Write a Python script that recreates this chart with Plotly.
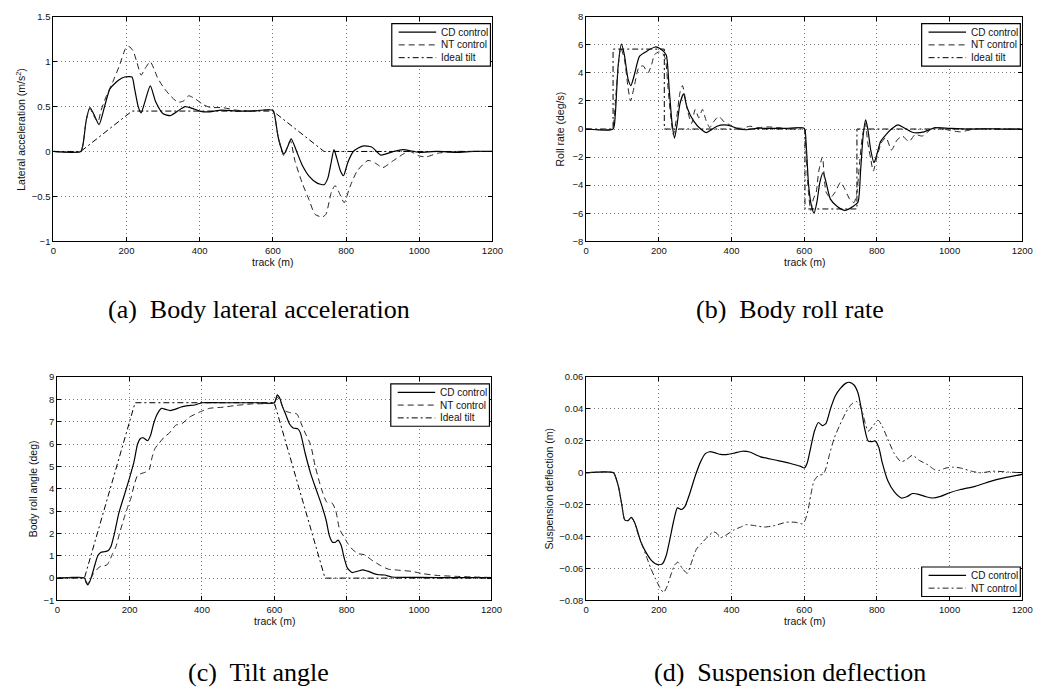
import plotly.graph_objects as go

# ---------------------------------------------------------------------------
# Track-position responses, (track m, value) pairs for each controller
# ---------------------------------------------------------------------------
track_ticks = [0, 200, 400, 600, 800, 1000, 1200]

# (a) body lateral acceleration, m/s^2
lat_acc_cd = [(0, 0), (75, 0), (82, 0.1), (90, 0.35), (100, 0.49), (110, 0.42), (125, 0.30),
              (140, 0.50), (155, 0.70), (180, 0.80), (195, 0.83), (215, 0.83), (222, 0.70),
              (232, 0.50), (240, 0.43), (250, 0.55), (265, 0.73), (280, 0.55), (300, 0.42),
              (320, 0.40), (340, 0.45), (360, 0.50), (380, 0.48), (400, 0.45), (420, 0.44),
              (460, 0.46), (500, 0.45), (540, 0.45), (600, 0.46), (605, 0.40), (615, 0.15),
              (630, -0.03), (640, 0.05), (650, 0.14), (665, 0.0), (680, -0.15), (700, -0.28),
              (720, -0.35), (740, -0.37), (750, -0.30), (758, -0.15), (767, 0.02), (775, -0.08),
              (785, -0.22), (793, -0.27), (805, -0.12), (820, 0.0), (845, 0.06), (870, 0.05),
              (895, -0.04), (930, 0.0), (955, 0.02), (985, 0.0), (1000, -0.01), (1050, 0.0),
              (1100, -0.01), (1150, 0.0), (1200, 0.0)]
lat_acc_nt = [(0, 0), (75, 0), (82, 0.1), (90, 0.35), (100, 0.48), (110, 0.40), (122, 0.33),
              (130, 0.45), (145, 0.62), (162, 0.77), (180, 0.95), (199, 1.16), (207, 1.17),
              (218, 1.12), (228, 1.0), (240, 0.85), (250, 0.92), (265, 1.0), (275, 0.92),
              (285, 0.82), (300, 0.72), (320, 0.62), (340, 0.55), (355, 0.56), (370, 0.62),
              (390, 0.58), (410, 0.52), (430, 0.49), (460, 0.49), (500, 0.46), (540, 0.45),
              (600, 0.46), (605, 0.40), (615, 0.15), (630, -0.05), (640, 0.05), (648, 0.12),
              (660, -0.1), (680, -0.35), (700, -0.55), (715, -0.70), (735, -0.73), (745, -0.70),
              (760, -0.45), (770, -0.38), (780, -0.45), (795, -0.57), (810, -0.40), (830, -0.22),
              (860, -0.10), (880, -0.13), (900, -0.18), (930, -0.10), (960, -0.02), (975, 0.0),
              (1000, -0.05), (1020, -0.06), (1050, -0.02), (1100, 0.0), (1150, 0.0), (1200, 0.0)]
lat_acc_ideal = [(0, 0), (75, 0), (215, 0.45), (600, 0.45), (740, 0), (1200, 0)]

# (b) body roll rate, deg/s
roll_rate_cd = [(0, 0), (74, 0), (80, 1.0), (88, 4.5), (97, 6.05), (105, 5.3), (115, 3.6),
                (123, 3.1), (132, 3.8), (147, 5.2), (170, 5.6), (190, 5.85), (205, 5.7),
                (220, 5.3), (228, 3.0), (236, 0.5), (243, -0.65), (250, 0.3), (258, 1.8),
                (268, 2.5), (278, 1.5), (295, 0.6), (315, 0.0), (331, -0.25), (345, -0.05),
                (360, 0.2), (380, 0.3), (400, 0.2), (420, 0.0), (440, -0.05), (470, 0.05),
                (500, 0.05), (550, 0.05), (600, 0.05), (605, -1.0), (612, -4.0), (620, -5.5),
                (627, -6.0), (635, -5.2), (643, -3.8), (652, -3.1), (660, -3.8), (672, -5.0),
                (690, -5.5), (712, -5.8), (735, -5.5), (748, -5.2), (755, -3.0), (762, -0.5),
                (769, 0.65), (775, 0.0), (783, -1.5), (792, -2.4), (800, -1.8), (810, -0.9),
                (825, -0.4), (840, 0.0), (858, 0.3), (880, 0.0), (900, -0.25), (930, -0.2),
                (960, 0.1), (1000, 0.05), (1050, 0.0), (1100, 0.02), (1150, 0.0), (1200, 0.0)]
roll_rate_nt = [(0, 0), (72, 0), (76, 0.5), (85, 3.5), (95, 5.8), (105, 5.0), (115, 3.0),
                (122, 2.0), (132, 3.0), (145, 4.4), (157, 4.5), (170, 4.0), (180, 4.6),
                (188, 5.3), (200, 5.5), (210, 5.4), (218, 5.0), (225, 3.0), (233, 0.8),
                (240, -0.4), (250, 1.0), (258, 2.6), (265, 3.1), (272, 2.3), (280, 1.2),
                (290, 0.4), (300, 1.4), (310, 0.8), (320, 1.4), (330, 0.6), (340, 0.1),
                (350, 0.5), (365, 0.9), (380, 0.5), (395, 0.3), (410, 0.1), (430, 0.05),
                (450, 0.2), (470, 0.1), (500, 0.15), (530, 0.1), (560, 0.0), (580, 0.1),
                (600, 0.05), (604, -1.0), (610, -4.0), (618, -5.8), (625, -5.0), (633, -4.5),
                (640, -3.0), (650, -2.0), (660, -4.5), (672, -4.9), (685, -4.5), (700, -3.8),
                (712, -4.3), (725, -5.0), (737, -5.25), (745, -4.5), (752, -2.5), (760, -0.5),
                (768, 0.4), (775, -1.0), (782, -2.0), (790, -3.0), (800, -2.0), (812, -1.0),
                (825, -0.6), (840, -1.5), (855, -0.8), (870, -0.5), (888, -0.9), (905, -0.4),
                (925, -0.5), (950, 0.0), (970, 0.1), (1000, -0.1), (1030, -0.2), (1050, -0.1),
                (1070, 0.0), (1100, 0.0), (1150, 0.0), (1200, 0.0)]
roll_rate_ideal = [(0, 0), (74, 0), (74, 5.7), (215, 5.7), (215, 0), (602, 0), (602, -5.7),
                   (745, -5.7), (745, 0), (1200, 0)]

# (c) body roll (tilt) angle, deg
tilt_cd = [(0, 0), (75, 0), (80, -0.2), (84, -0.3), (90, -0.15), (97, 0.2), (104, 0.6),
           (112, 1.0), (120, 1.15), (130, 1.18), (140, 1.22), (148, 1.4), (158, 2.0),
           (170, 2.9), (185, 3.7), (200, 4.5), (212, 5.2), (222, 6.0), (230, 6.25), (238, 6.28),
           (250, 6.15), (258, 6.4), (266, 6.9), (275, 7.3), (288, 7.6), (300, 7.55), (312, 7.5),
           (325, 7.55), (340, 7.65), (360, 7.72), (380, 7.75), (400, 7.85), (450, 7.85),
           (500, 7.85), (550, 7.85), (600, 7.85), (608, 8.2), (615, 8.05), (622, 7.7),
           (632, 7.3), (642, 6.9), (652, 6.72), (665, 6.68), (672, 6.5), (685, 5.6), (700, 4.7),
           (717, 3.9), (730, 3.3), (743, 2.6), (752, 1.9), (760, 1.62), (768, 1.6), (776, 1.7),
           (785, 1.45), (793, 0.9), (802, 0.45), (815, 0.25), (828, 0.3), (845, 0.37),
           (860, 0.3), (875, 0.2), (890, 0.15), (905, 0.14), (925, 0.05), (1000, 0.03),
           (1100, 0.02), (1200, 0.02)]
tilt_nt = [(0, 0), (75, 0), (82, -0.25), (90, -0.1), (100, 0.2), (110, 0.4), (120, 0.53),
           (130, 0.55), (138, 0.6), (145, 0.8), (153, 1.1), (162, 1.4), (172, 2.0), (185, 2.7),
           (195, 3.2), (204, 3.6), (213, 4.2), (222, 4.6), (232, 4.68), (245, 4.75), (254, 4.85),
           (262, 5.4), (270, 5.8), (282, 6.05), (295, 6.3), (310, 6.5), (328, 6.85), (345, 6.92),
           (365, 7.2), (393, 7.43), (421, 7.6), (458, 7.65), (495, 7.73), (540, 7.8), (600, 7.85),
           (608, 8.1), (617, 7.9), (628, 7.5), (645, 7.4), (662, 7.35), (672, 7.0), (685, 6.5),
           (700, 5.98), (713, 5.0), (730, 4.0), (745, 3.4), (760, 3.35), (770, 3.0), (780, 2.2),
           (791, 1.89), (803, 1.55), (818, 1.25), (833, 1.09), (848, 1.05), (870, 0.8),
           (895, 0.55), (915, 0.4), (940, 0.36), (980, 0.3), (1010, 0.2), (1050, 0.12),
           (1100, 0.08), (1150, 0.05), (1200, 0.03)]
tilt_ideal = [(0, 0), (75, 0), (215, 7.85), (600, 7.85), (740, 0), (1200, 0)]

# (d) suspension deflection, m
susp_cd = [(0, 0), (75, 0), (83, -0.004), (90, -0.0097), (98, -0.02), (106, -0.0295), (115, -0.03),
           (124, -0.028), (133, -0.031), (142, -0.037), (150, -0.043), (165, -0.05), (180, -0.055),
           (197, -0.0576), (210, -0.057), (220, -0.052), (230, -0.042), (240, -0.031),
           (251, -0.022), (262, -0.023), (272, -0.021), (285, -0.013), (300, -0.002), (315, 0.007),
           (328, 0.012), (340, 0.0132), (355, 0.0125), (370, 0.0115), (390, 0.0115), (410, 0.0125),
           (430, 0.0135), (450, 0.013), (480, 0.01), (520, 0.008), (560, 0.006), (590, 0.004),
           (600, 0.003), (608, 0.006), (618, 0.016), (628, 0.026), (639, 0.0315), (650, 0.0295),
           (660, 0.031), (672, 0.04), (685, 0.048), (700, 0.053), (715, 0.0562), (725, 0.0567),
           (737, 0.055), (748, 0.05), (757, 0.04), (766, 0.028), (776, 0.0199), (787, 0.0195),
           (795, 0.02), (805, 0.016), (815, 0.006), (830, -0.005), (848, -0.012), (867, -0.0158),
           (882, -0.015), (898, -0.013), (915, -0.0135), (935, -0.015), (953, -0.0158),
           (975, -0.0148), (1000, -0.0125), (1030, -0.0105), (1070, -0.0085), (1110, -0.0055),
           (1150, -0.0032), (1200, -0.001)]
susp_nt = [(0, 0), (75, 0), (83, -0.004), (90, -0.0097), (98, -0.02), (106, -0.0295), (115, -0.03),
           (124, -0.028), (133, -0.031), (142, -0.038), (152, -0.044), (165, -0.052), (178, -0.06),
           (190, -0.066), (203, -0.072), (213, -0.075), (223, -0.071), (233, -0.064), (243, -0.058),
           (252, -0.056), (265, -0.06), (278, -0.063), (290, -0.056), (303, -0.048), (318, -0.044),
           (335, -0.04), (350, -0.037), (360, -0.038), (370, -0.0407), (385, -0.039), (405, -0.036),
           (425, -0.034), (440, -0.0325), (460, -0.033), (490, -0.034), (520, -0.033), (550, -0.031),
           (575, -0.031), (595, -0.032), (602, -0.03), (610, -0.024), (618, -0.014), (627, -0.005),
           (640, -0.0015), (652, -0.001), (660, 0.003), (670, 0.012), (683, 0.022), (698, 0.03),
           (715, 0.038), (730, 0.043), (743, 0.0447), (752, 0.043), (760, 0.038), (768, 0.031),
           (776, 0.026), (788, 0.029), (803, 0.033), (815, 0.029), (830, 0.021), (848, 0.012),
           (866, 0.007), (880, 0.008), (898, 0.011), (915, 0.008), (940, 0.005), (958, 0.002),
           (972, 0.0015), (990, 0.003), (1010, 0.0035), (1030, 0.003), (1060, 0.001), (1085, 0.0),
           (1120, 0.001), (1160, 0.0005), (1200, 0.0)]

# ---------------------------------------------------------------------------
# Figure geometry and styling
# ---------------------------------------------------------------------------
W, H = 1056, 696
SANS = "Liberation Sans, Arial, Helvetica, sans-serif"
SERIF = "Liberation Serif, DejaVu Serif, Times New Roman, serif"
INK = "#111111"

SOLID = "solid"
DASHED = "6px,4px"
DASHDOT = "6px,3px,2px,3px"

STYLE = {
    "CD control": dict(color="black", width=1.2, dash=SOLID),
    "NT control": dict(color="#222222", width=1.0, dash=DASHED),
    "Ideal tilt": dict(color="black", width=1.0, dash=DASHDOT),
    "NT control (d)": dict(color="#222222", width=1.0, dash=DASHDOT),
}


def px_x(p):
    return p / W


def px_y(p):
    return 1 - p / H


panels = [
    dict(box=(51, 496, 11, 239), yrange=(-1, 1.5), dtick=0.5,
         ytitle="Lateral acceleration (m/s<sup>2</sup>)", ytitle_off=34,
         caption="(a)  Body lateral acceleration", cap_x=259, cap_y=308,
         series=[("CD control", lat_acc_cd, "CD control"),
                 ("NT control", lat_acc_nt, "NT control"),
                 ("Ideal tilt", lat_acc_ideal, "Ideal tilt")]),
    dict(box=(591, 1033, 11, 239), yrange=(-8, 8), dtick=2,
         ytitle="Roll rate (deg/s)", ytitle_off=26,
         caption="(b)  Body roll rate", cap_x=798, cap_y=308,
         series=[("CD control", roll_rate_cd, "CD control"),
                 ("NT control", roll_rate_nt, "NT control"),
                 ("Ideal tilt", roll_rate_ideal, "Ideal tilt")]),
    dict(box=(55, 495, 377, 604), yrange=(-1, 9), dtick=1,
         ytitle="Body roll angle (deg)", ytitle_off=25,
         caption="(c)  Tilt angle", cap_x=259, cap_y=677,
         series=[("CD control", tilt_cd, "CD control"),
                 ("NT control", tilt_nt, "NT control"),
                 ("Ideal tilt", tilt_ideal, "Ideal tilt")]),
    dict(box=(591, 1033, 377, 604), yrange=(-0.08, 0.06), dtick=0.02,
         ytitle="Suspension deflection (m)", ytitle_off=38,
         caption="(d)  Suspension deflection", cap_x=798, cap_y=677,
         series=[("CD control", susp_cd, "CD control"),
                 ("NT control", susp_nt, "NT control (d)")],
         legend_bottom=True),
]

fig = go.Figure()
layout = dict(width=W, height=H, margin=dict(l=0, r=0, t=0, b=0),
              paper_bgcolor="white", plot_bgcolor="white", showlegend=False)
annotations = []
shapes = []

for i, p in enumerate(panels, start=1):
    left, right, top, bottom = p["box"]
    xa = "x" if i == 1 else f"x{i}"
    ya = "y" if i == 1 else f"y{i}"
    axis_common = dict(
        showline=True, linecolor="black", linewidth=1, mirror="ticks",
        ticks="inside", ticklen=4, tickwidth=1, tickcolor="black",
        showgrid=True, gridcolor="#7a7a7a", gridwidth=1, griddash="1px,3px",
        zeroline=False, tickfont=dict(family=SANS, size=9.5, color=INK),
    )
    layout["xaxis" if i == 1 else f"xaxis{i}"] = dict(
        axis_common, domain=[px_x(left), px_x(right)], anchor=ya,
        range=[0, 1200], tickvals=track_ticks,
    )
    layout["yaxis" if i == 1 else f"yaxis{i}"] = dict(
        axis_common, domain=[px_y(bottom), px_y(top)], anchor=xa,
        range=list(p["yrange"]), dtick=p["dtick"], tick0=0,
    )

    for name, pts, key in p["series"]:
        st = STYLE[key]
        xs = [q[0] for q in pts]
        ys = [q[1] for q in pts]
        shape = "linear" if name == "Ideal tilt" else "spline"
        fig.add_trace(go.Scatter(
            x=xs, y=ys, mode="lines", name=name, xaxis=xa, yaxis=ya,
            line=dict(color=st["color"], width=st["width"], dash=st["dash"],
                      shape=shape, smoothing=0.6),
            hoverinfo="x+y+name",
        ))

    # axis titles
    annotations.append(dict(
        text="track (m)", xref="paper", yref="paper",
        x=px_x((left + right) / 2), y=px_y(bottom + 21), showarrow=False,
        xanchor="center", yanchor="middle", font=dict(family=SANS, size=10.5, color=INK)))
    annotations.append(dict(
        text=p["ytitle"], xref="paper", yref="paper", textangle=-90,
        x=px_x(left - p["ytitle_off"]), y=px_y((top + bottom) / 2), showarrow=False,
        xanchor="center", yanchor="middle", font=dict(family=SANS, size=10.5, color=INK)))

    # sub-figure caption
    annotations.append(dict(
        text=p["caption"], xref="paper", yref="paper",
        x=px_x(p["cap_x"]), y=px_y(p["cap_y"]),
        showarrow=False, xanchor="center", yanchor="middle",
        font=dict(family=SERIF, size=26, color="black")))

    # legend box in the plot corner
    n = len(p["series"])
    row_h = 13.0
    lw, lh = 100, 4 + row_h * n
    lx1 = right - 2
    lx0 = lx1 - lw
    if p.get("legend_bottom"):
        ly1 = bottom - 4
        ly0 = ly1 - lh
    else:
        ly0 = top + 7
        ly1 = ly0 + lh
    shapes.append(dict(type="rect", xref="paper", yref="paper",
                       x0=px_x(lx0), x1=px_x(lx1), y0=px_y(ly1), y1=px_y(ly0),
                       line=dict(color="black", width=1.2), fillcolor="white", layer="above"))
    for k, (name, _, key) in enumerate(p["series"]):
        st = STYLE[key]
        ry = ly0 + 2 + row_h * (k + 0.5)
        shapes.append(dict(type="line", xref="paper", yref="paper",
                           x0=px_x(lx0 + 7), x1=px_x(lx0 + 45), y0=px_y(ry), y1=px_y(ry),
                           line=dict(color=st["color"], width=st["width"], dash=st["dash"]),
                           layer="above"))
        annotations.append(dict(
            text=name, xref="paper", yref="paper", x=px_x(lx0 + 48), y=px_y(ry),
            showarrow=False, xanchor="left", yanchor="middle",
            font=dict(family=SANS, size=10, color=INK)))

layout["annotations"] = annotations
layout["shapes"] = shapes
fig.update_layout(**layout)
fig.write_html("out.html")
